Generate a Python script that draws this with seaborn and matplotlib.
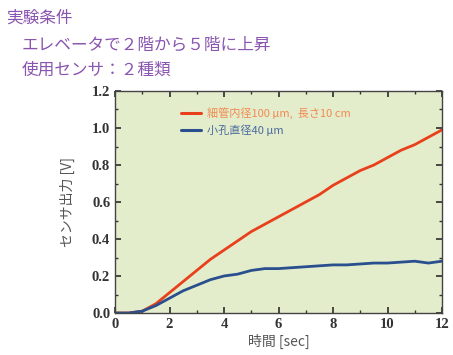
import matplotlib
matplotlib.use("Agg")
import matplotlib.pyplot as plt
import seaborn as sns
import pandas as pd
from matplotlib.ticker import MultipleLocator
from matplotlib.lines import Line2D

time_sec = [0, 0.5, 1.0, 1.5, 2.0, 2.5, 3.0, 3.5, 4.0, 4.5, 5.0, 5.5, 6.0, 6.5, 7.0, 7.5,
            8.0, 8.5, 9.0, 9.5, 10.0, 10.5, 11.0, 11.5, 12.0]
tube_100um = [0.0, 0.0, 0.01, 0.05, 0.11, 0.17, 0.23, 0.29, 0.34, 0.39, 0.44, 0.48, 0.52,
              0.56, 0.60, 0.64, 0.69, 0.73, 0.77, 0.80, 0.84, 0.88, 0.91, 0.95, 0.99]
hole_40um = [0.0, 0.0, 0.01, 0.04, 0.08, 0.12, 0.15, 0.18, 0.20, 0.21, 0.23, 0.24, 0.24,
             0.245, 0.25, 0.255, 0.26, 0.26, 0.265, 0.27, 0.27, 0.275, 0.28, 0.27, 0.28]
labels = ["細管内径100 μm,  長さ10 cm", "小孔直径40 μm"]
title_lines = ["実験条件", "エレベータで２階から５階に上昇", "使用センサ：２種類"]
x_ticks = [0, 2, 4, 6, 8, 10, 12]
y_ticks = [0.0, 0.2, 0.4, 0.6, 0.8, 1.0, 1.2]

df = pd.DataFrame({
    "t": time_sec * 2,
    "v": tube_100um + hole_40um,
    "s": [labels[0]] * len(time_sec) + [labels[1]] * len(time_sec),
})

sns.set_theme(style="ticks")
plt.rcParams['font.family'] = ['Noto Sans CJK JP', 'DejaVu Sans']

fig = plt.figure(figsize=(4.53, 3.55), dpi=100)
ax = fig.add_axes([115/453, 1-313/355, (442-115)/453, (313-91)/355])
ax.set_facecolor("#e4edcb")

colors = {labels[0]: "#e8401c", labels[1]: "#2a4f8e"}
sns.lineplot(data=df, x="t", y="v", hue="s", palette=colors, ax=ax, linewidth=2.0,
             legend=False)

ax.set_xticks(x_ticks)
ax.set_yticks(y_ticks)
ax.set_xticklabels([f"{v}" for v in x_ticks], family="Liberation Serif", fontweight="bold")
ax.set_yticklabels([f"{v:.1f}" for v in y_ticks], family="Liberation Serif", fontweight="bold")
ax.set_xlim(0, 12)
ax.set_ylim(0, 1.2)
ax.xaxis.set_minor_locator(MultipleLocator(1))
ax.yaxis.set_minor_locator(MultipleLocator(0.1))
ax.tick_params(which="both", direction="in", top=True, right=True, color="#333333")
ax.tick_params(which="major", length=4, labelsize=10.5, labelcolor="#333333")
ax.tick_params(which="minor", length=2)
for sp in ax.spines.values():
    sp.set_color("#444444")
    sp.set_linewidth(1.0)

ax.set_xlabel("時間 [sec]", fontsize=10, color="#555555", labelpad=2)
ax.set_ylabel("センサ出力 [V]", fontsize=10, color="#555555", labelpad=12)

handles = [Line2D([], [], color=colors[l], lw=2.2) for l in labels]
leg = ax.legend(handles, labels, loc="upper left", bbox_to_anchor=(0.17, 0.97),
                frameon=False, fontsize=8, handlelength=1.8, handletextpad=0.6,
                labelspacing=0.45)
for txt, l in zip(leg.get_texts(), labels):
    txt.set_color("#f08a50" if l == labels[0] else "#4a6aa0")

purple = "#8a55b0"
fig.text(6/453, 1-18/355, title_lines[0], fontsize=12, color=purple, va="center")
fig.text(22/453, 1-45/355, title_lines[1], fontsize=12, color=purple, va="center")
fig.text(22/453, 1-70/355, title_lines[2], fontsize=12, color=purple, va="center")

fig.savefig("out.png", dpi=100, facecolor="white")
